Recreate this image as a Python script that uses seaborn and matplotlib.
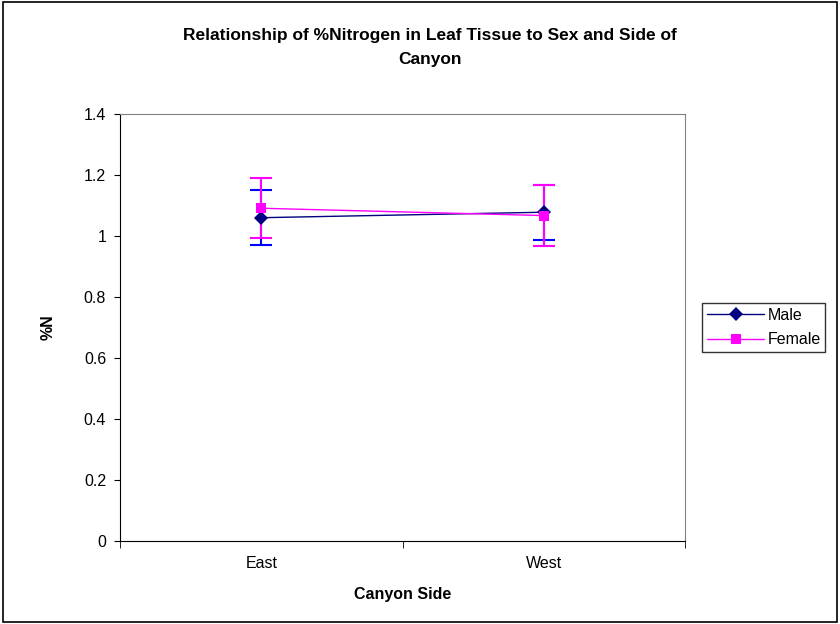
import pandas as pd
import matplotlib.pyplot as plt
import seaborn as sns
from matplotlib.patches import Rectangle

# values
sides = ['East', 'West']
male_n = [1.060, 1.078]
male_se = [0.090, 0.090]
female_n = [1.091, 1.067]
female_se = [0.099, 0.100]

df = pd.DataFrame({
    'pos': [0, 1, 0, 1],
    'N': male_n + female_n,
    'se': male_se + female_se,
    'Sex': ['Male', 'Male', 'Female', 'Female'],
})

sns.set_style('white')
plt.rcParams['font.family'] = ['Liberation Sans', 'DejaVu Sans']
plt.rcParams['text.color'] = 'black'
plt.rcParams['axes.labelcolor'] = 'black'
plt.rcParams['xtick.color'] = 'black'
plt.rcParams['ytick.color'] = 'black'

fig = plt.figure(figsize=(8.4, 6.24), dpi=100)
ax = fig.add_axes([0.1429, 0.133, 0.6726, 0.6843])

colors = {'Male': '#000080', 'Female': '#FF00FF'}
markers = {'Male': 'D', 'Female': 's'}

# error bars first, lines on top
for sex in ['Male', 'Female']:
    d = df[df['Sex'] == sex]
    ax.errorbar(d['pos'], d['N'], yerr=d['se'], fmt='none',
                ecolor='#0000FF' if sex == 'Male' else '#FF00FF',
                elinewidth=1.5, capsize=8, capthick=1.5, zorder=2)

sns.lineplot(data=df, x='pos', y='N', hue='Sex', style='Sex',
             palette=colors, markers=markers, dashes=False,
             markersize=7, linewidth=1, markeredgewidth=0, ax=ax, zorder=3)

ax.set_xlim(-0.5, 1.5)
ax.set_ylim(0, 1.4)
ax.set_yticks([0, 0.2, 0.4, 0.6, 0.8, 1.0, 1.2, 1.4])
ax.set_yticklabels(['0', '0.2', '0.4', '0.6', '0.8', '1', '1.2', '1.4'], fontsize=11.5)
ax.set_xticks([0, 1])
ax.set_xticklabels(sides, fontsize=11.5)
ax.set_xticks([-0.5, 0.5, 1.5], minor=True)
ax.tick_params(axis='x', which='major', length=0, pad=11)
ax.tick_params(axis='x', which='minor', length=5, direction='out', color='black', bottom=True)
ax.tick_params(axis='y', length=4, direction='out', color='black', left=True, pad=6)

for side in ['top', 'right']:
    ax.spines[side].set_color('#808080')
for side in ['left', 'bottom']:
    ax.spines[side].set_color('black')

ax.set_xlabel('Canyon Side', fontsize=11.5, fontweight='bold', labelpad=11)
ax.set_ylabel('%N', fontsize=11.5, fontweight='bold', labelpad=20)

fig.suptitle('Relationship of %Nitrogen in Leaf Tissue to Sex and Side of\nCanyon',
             x=0.512, y=0.955, fontsize=12.5, fontweight='bold', linespacing=1.75)

leg = ax.legend(loc='center left', bbox_to_anchor=(1.03, 0.5), frameon=True,
                fancybox=False, fontsize=11.5, handlelength=3.6, borderpad=0.3,
                labelspacing=0.6, handletextpad=0.2, borderaxespad=0)
leg.get_frame().set_edgecolor('black')
leg.get_frame().set_linewidth(1)

# border around the whole chart
fig.patches.append(Rectangle((0.003, 0.003), 0.994, 0.994, transform=fig.transFigure,
                             fill=False, edgecolor='black', linewidth=1.2))

fig.savefig('out.png', dpi=100)
